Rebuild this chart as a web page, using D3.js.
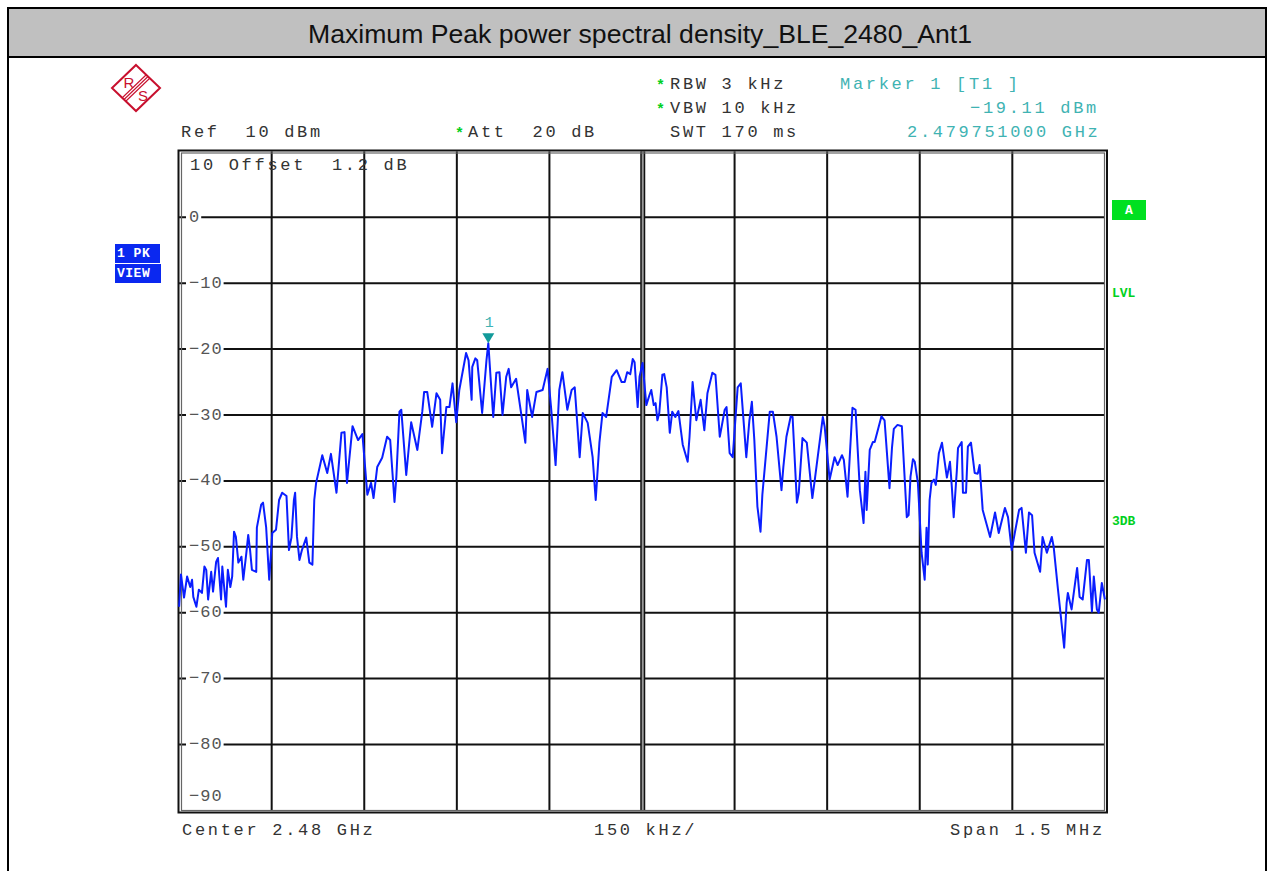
<!DOCTYPE html>
<html>
<head>
<meta charset="UTF-8">
<title>Maximum Peak power spectral density_BLE_2480_Ant1</title>
<script src="https://d3js.org/d3.v7.min.js"></script>
<style>
  body { margin: 0; background: #fff; }
  svg text { font-family: "Liberation Mono", "DejaVu Sans Mono", monospace; white-space: pre; }
</style>
</head>
<body>
<svg></svg>
<script>
// trace, frequency offset from 2.48 GHz in kHz
const traceFreq = [
  -750, -747, -742, -737, -732, -729, -727, -722, -718, -713, -709, -706, -703, -698, -695, -690,
  -687, -682, -680, -677, -674, -671, -667, -664, -661, -658, -654, -649, -646, -641, -638, -635,
  -632, -625, -624, -617, -614, -609, -604, -599, -593, -588, -583, -576, -572, -568, -564, -562,
  -559, -555, -551, -544, -539, -534, -531, -528, -518, -510, -504, -495, -487, -482, -478, -469,
  -460, -453, -445, -439, -435, -429, -421, -413, -408, -401, -398, -393, -390, -382, -374, -364,
  -356, -353, -348, -340, -333, -327, -324, -317, -312, -307, -301, -296, -285, -281, -276, -275,
  -270, -267, -259, -252, -249, -244, -241, -236, -231, -226, -220, -216, -212, -204, -195, -189,
  -186, -178, -171, -161, -153, -147, -140, -134, -129, -121, -114, -109, -101, -96, -88, -80,
  -75, -69, -64, -58, -49, -41, -33, -28, -24, -19, -15, -12, -7, -4, 1, 7,
  12, 15, 19, 22, 25, 28, 33, 36, 40, 45, 49, 54, 59, 66, 74, 77,
  82, 88, 95, 101, 106, 114, 119, 126, 129, 134, 137, 142, 147, 155, 160, 169,
  174, 178, 182, 187, 192, 195, 199, 207, 212, 218, 226, 229, 234, 241, 244, 251,
  254, 260, 267, 276, 280, 293, 296, 304, 312, 317, 324, 327, 333, 341, 346, 353,
  359, 362, 364, 369, 374, 377, 388, 393, 401, 405, 408, 414, 421, 429, 432, 435,
  439, 442, 447, 453, 458, 461, 463, 466, 469, 473, 476, 481, 486, 494, 499, 502,
  505, 510, 512, 518, 520, 525, 528, 533, 539, 544, 547, 552, 564, 572, 578, 588,
  593, 599, 604, 611, 615, 622, 627, 632, 636, 645, 649, 656, 664, 667, 674, 684,
  688, 690, 696, 705, 709, 714, 721, 724, 729, 732, 737, 740, 745, 750
];
const traceLevel = [
  -59.1, -54.2, -57.7, -54.5, -56.1, -55.0, -57.6, -59.1, -56.5, -57.0, -53.0, -53.5, -58.0, -53.8, -56.8, -52.3,
  -51.7, -58.0, -53.0, -56.1, -59.1, -53.5, -56.1, -54.5, -47.7, -48.5, -52.4, -51.5, -55.0, -50.9, -48.2, -50.5,
  -53.5, -53.8, -47.1, -43.6, -43.3, -47.0, -55.0, -47.9, -47.4, -42.9, -41.8, -42.3, -50.5, -48.6, -42.9, -41.8,
  -48.5, -52.0, -50.5, -48.6, -52.4, -52.7, -42.9, -40.3, -36.1, -38.8, -35.9, -41.8, -32.7, -32.6, -40.3, -31.7,
  -33.8, -32.9, -42.1, -40.3, -42.6, -37.9, -36.5, -33.3, -33.8, -43.2, -39.4, -29.5, -29.2, -39.1, -31.1, -35.3,
  -29.5, -26.5, -26.5, -31.8, -26.7, -27.7, -35.8, -28.8, -28.8, -25.2, -31.1, -26.2, -20.6, -21.7, -27.7, -22.7,
  -21.4, -21.7, -29.7, -21.7, -19.1, -26.2, -30.3, -23.6, -23.5, -30.0, -24.2, -23.0, -25.8, -24.5, -30.3, -34.2,
  -26.2, -30.3, -26.5, -26.2, -23.0, -29.2, -37.6, -26.2, -23.5, -29.2, -26.2, -25.8, -36.4, -29.7, -31.2, -36.4,
  -42.9, -34.2, -29.7, -30.3, -24.2, -23.2, -25.0, -25.0, -23.5, -23.8, -21.5, -22.0, -28.8, -24.2, -22.1, -28.5,
  -27.0, -26.2, -28.5, -28.2, -30.8, -29.7, -23.9, -23.8, -25.8, -32.7, -29.5, -30.3, -29.4, -34.5, -37.1, -33.3,
  -25.0, -30.8, -27.7, -32.3, -26.7, -23.6, -23.9, -33.3, -31.8, -29.2, -28.8, -35.8, -36.4, -25.8, -25.2, -36.4,
  -30.8, -28.0, -33.8, -43.9, -47.7, -42.1, -37.9, -29.5, -29.5, -33.3, -41.4, -37.9, -33.3, -30.2, -30.3, -43.3,
  -41.8, -33.5, -34.2, -42.6, -39.8, -30.3, -31.8, -39.8, -36.4, -37.6, -36.1, -36.8, -42.4, -28.9, -29.2, -41.4,
  -46.4, -38.6, -44.4, -35.3, -34.1, -34.1, -30.2, -30.8, -41.1, -35.0, -32.1, -31.5, -31.7, -45.5, -45.2, -39.4,
  -36.7, -37.1, -40.3, -50.9, -55.0, -47.1, -52.7, -42.9, -40.3, -39.8, -40.6, -35.8, -34.2, -39.5, -37.1, -40.9,
  -45.5, -38.6, -35.0, -34.1, -41.8, -41.8, -34.8, -34.2, -38.8, -38.9, -37.6, -44.4, -48.5, -44.8, -47.9, -44.1,
  -45.5, -50.5, -47.9, -44.4, -44.1, -50.9, -44.8, -45.2, -50.9, -53.8, -48.5, -50.9, -48.5, -50.0, -56.5, -65.3,
  -58.5, -57.0, -59.5, -53.2, -57.6, -58.0, -52.0, -52.0, -59.8, -54.5, -59.5, -60.0, -55.5, -58.0
];

const xTicks = [-750, -600, -450, -300, -150, 0, 150, 300, 450, 600, 750];
const yTicks = [10, 0, -10, -20, -30, -40, -50, -60, -70, -80, -90];
const yLabels = ["", "0", "−10", "−20", "−30", "−40", "−50", "−60", "−70", "−80", "−90"];

const marker = { freq: -249, level: -19.11, label: "1" };

const title = "Maximum Peak power spectral density_BLE_2480_Ant1";

const width = 1274, height = 871;
const svg = d3.select("svg").attr("width", width).attr("height", height);

const x = d3.scaleLinear().domain([-750, 750]).range([179.1, 1104.9]);
const y = d3.scaleLinear().domain([10, -90]).range([151.4, 810.4]);

// page frame + title bar
svg.append("rect").attr("x", 8).attr("y", 8).attr("width", 1258).attr("height", 900)
  .attr("fill", "#fff").attr("stroke", "#000").attr("stroke-width", 2);
svg.append("rect").attr("x", 8).attr("y", 8).attr("width", 1258).attr("height", 49)
  .attr("fill", "#c0c0c0").attr("stroke", "#000").attr("stroke-width", 2);
svg.append("text").attr("x", 640).attr("y", 34).attr("text-anchor", "middle")
  .attr("dominant-baseline", "central")
  .style("font-family", "'Liberation Sans', Arial, sans-serif").style("font-size", "26px")
  .attr("textLength", 664).attr("lengthAdjust", "spacingAndGlyphs")
  .attr("fill", "#111").text(title);

// R&S logo
const logo = svg.append("g").attr("transform", "translate(136,88)");
logo.append("path").attr("d", "M0,-23 L24,0 L0,23 L-24,0 Z")
  .attr("fill", "none").attr("stroke", "#c8102e").attr("stroke-width", 2);
[-2.5, 0, 2.5].forEach(o => {
  logo.append("line")
    .attr("x1", -12 + o * 0.7).attr("y1", 11.5 + o * 0.7)
    .attr("x2", 12 + o * 0.7).attr("y2", -11.5 + o * 0.7)
    .attr("stroke", "#c8102e").attr("stroke-width", 1.1);
});
logo.append("text").attr("x", -7).attr("y", -6).attr("text-anchor", "middle")
  .attr("dominant-baseline", "central").style("font-family", "'Liberation Sans', sans-serif")
  .style("font-size", "15px").attr("fill", "#c8102e").text("R");
logo.append("text").attr("x", 7).attr("y", 7).attr("text-anchor", "middle")
  .attr("dominant-baseline", "central").style("font-family", "'Liberation Sans', sans-serif")
  .style("font-size", "15px").attr("fill", "#c8102e").text("S");

// header text
function mono(tx, ty, str, color) {
  return svg.append("text").attr("x", tx).attr("y", ty).attr("dominant-baseline", "central")
    .style("font-size", "17px").style("letter-spacing", "2.7px")
    .attr("fill", color || "#333").text(str);
}
function star(tx, ty) {
  svg.append("text").attr("x", tx).attr("y", ty + 2).attr("dominant-baseline", "central")
    .style("font-size", "15px").style("font-weight", "bold").attr("fill", "#00d020").text("*");
}
mono(181, 132, "Ref  10 dBm");
star(455, 132); mono(468, 132, "Att  20 dB");
star(656, 84); mono(670, 84, "RBW 3 kHz");
star(656, 108); mono(670, 108, "VBW 10 kHz");
mono(670, 132, "SWT 170 ms");
const teal = "#3fb3b3";
mono(840, 84, "Marker 1 [T1 ]", teal);
mono(970, 108, "−19.11 dBm", teal);
mono(907, 132, "2.479751000 GHz", teal);

mono(182, 830, "Center 2.48 GHz");
mono(594, 830, "150 kHz/");
mono(950, 830, "Span 1.5 MHz");

// side labels
function badge(bx, by, bw, bh, fill, txt) {
  svg.append("rect").attr("x", bx).attr("y", by).attr("width", bw).attr("height", bh).attr("fill", fill);
  svg.append("text").attr("x", bx + 2).attr("y", by + bh / 2).attr("dominant-baseline", "central")
    .style("font-size", "13px").style("font-weight", "bold").style("letter-spacing", "0.5px")
    .attr("fill", "#fff").text(txt);
}
badge(115, 244, 45, 19, "#0a28f0", "1 PK");
badge(115, 264, 46, 19, "#0a28f0", "VIEW");
svg.append("rect").attr("x", 1112).attr("y", 200).attr("width", 34).attr("height", 20).attr("fill", "#00e020");
svg.append("text").attr("x", 1129).attr("y", 210).attr("text-anchor", "middle").attr("dominant-baseline", "central")
  .style("font-size", "13px").style("font-weight", "bold").attr("fill", "#fff").text("A");
[["LVL", 293], ["3DB", 521]].forEach(d => {
  svg.append("text").attr("x", 1112).attr("y", d[1]).attr("dominant-baseline", "central")
    .style("font-size", "13px").style("font-weight", "bold").attr("fill", "#00d020").text(d[0]);
});

// grid
const grid = svg.append("g");
grid.selectAll(".hl").data(yTicks.slice(1, -1)).join("line")
  .attr("x1", x(-750)).attr("x2", x(750)).attr("y1", d => y(d)).attr("y2", d => y(d))
  .attr("stroke", "#111").attr("stroke-width", 2);
grid.selectAll(".vl").data(xTicks.slice(1, -1).filter(d => d !== 0)).join("line")
  .attr("y1", y(10)).attr("y2", y(-90)).attr("x1", d => x(d)).attr("x2", d => x(d))
  .attr("stroke", "#111").attr("stroke-width", 2);
// center double line
grid.append("rect").attr("x", x(0) - 1).attr("y", y(10)).attr("width", 3).attr("height", y(-90) - y(10)).attr("fill", "#999");
[x(0) - 1, x(0) + 2.5].forEach(cx => grid.append("line").attr("x1", cx).attr("x2", cx)
  .attr("y1", y(10)).attr("y2", y(-90)).attr("stroke", "#111").attr("stroke-width", 1.5));

// frame
svg.append("rect").attr("x", 178.5).attr("y", 150.5).attr("width", 928.5).attr("height", 662)
  .attr("fill", "none").attr("stroke", "#111").attr("stroke-width", 2);
svg.append("rect").attr("x", 181.5).attr("y", 153).attr("width", 923).attr("height", 657.5)
  .attr("fill", "none").attr("stroke", "#666").attr("stroke-width", 1.2);

// y labels with white boxes
yLabels.forEach((lab, i) => {
  if (!lab) return;
  const v = yTicks[i];
  const ly = v === -90 ? y(v) - 14 : y(v);
  const g = svg.append("g");
  const box = g.append("rect").attr("x", 186).attr("y", ly - 8).attr("height", 16).attr("fill", "#fff");
  const t = g.append("text").attr("x", 189).attr("y", ly).attr("dominant-baseline", "central")
    .style("font-size", "17px").style("letter-spacing", "1px").attr("fill", "#555").text(lab);
  box.attr("width", t.node().getComputedTextLength() + 4);
});
mono(190, 165, "10 Offset  1.2 dB", "#333");

// trace
const pts = traceFreq.map((f, i) => [f, traceLevel[i]]);
svg.append("path").datum(pts)
  .attr("d", d3.line().x(d => x(d[0])).y(d => y(d[1])))
  .attr("fill", "none").attr("stroke", "#0a1eff").attr("stroke-width", 2)
  .attr("stroke-linejoin", "round");

// marker
const mx = x(marker.freq), my = y(marker.level);
svg.append("path").attr("d", `M${mx - 6},${my - 10} L${mx + 6},${my - 10} L${mx},${my} Z`).attr("fill", "#129a9a");
svg.append("text").attr("x", mx + 1).attr("y", my - 20).attr("text-anchor", "middle").attr("dominant-baseline", "central")
  .style("font-size", "15px").attr("fill", teal).text(marker.label);
</script>
</body>
</html>
